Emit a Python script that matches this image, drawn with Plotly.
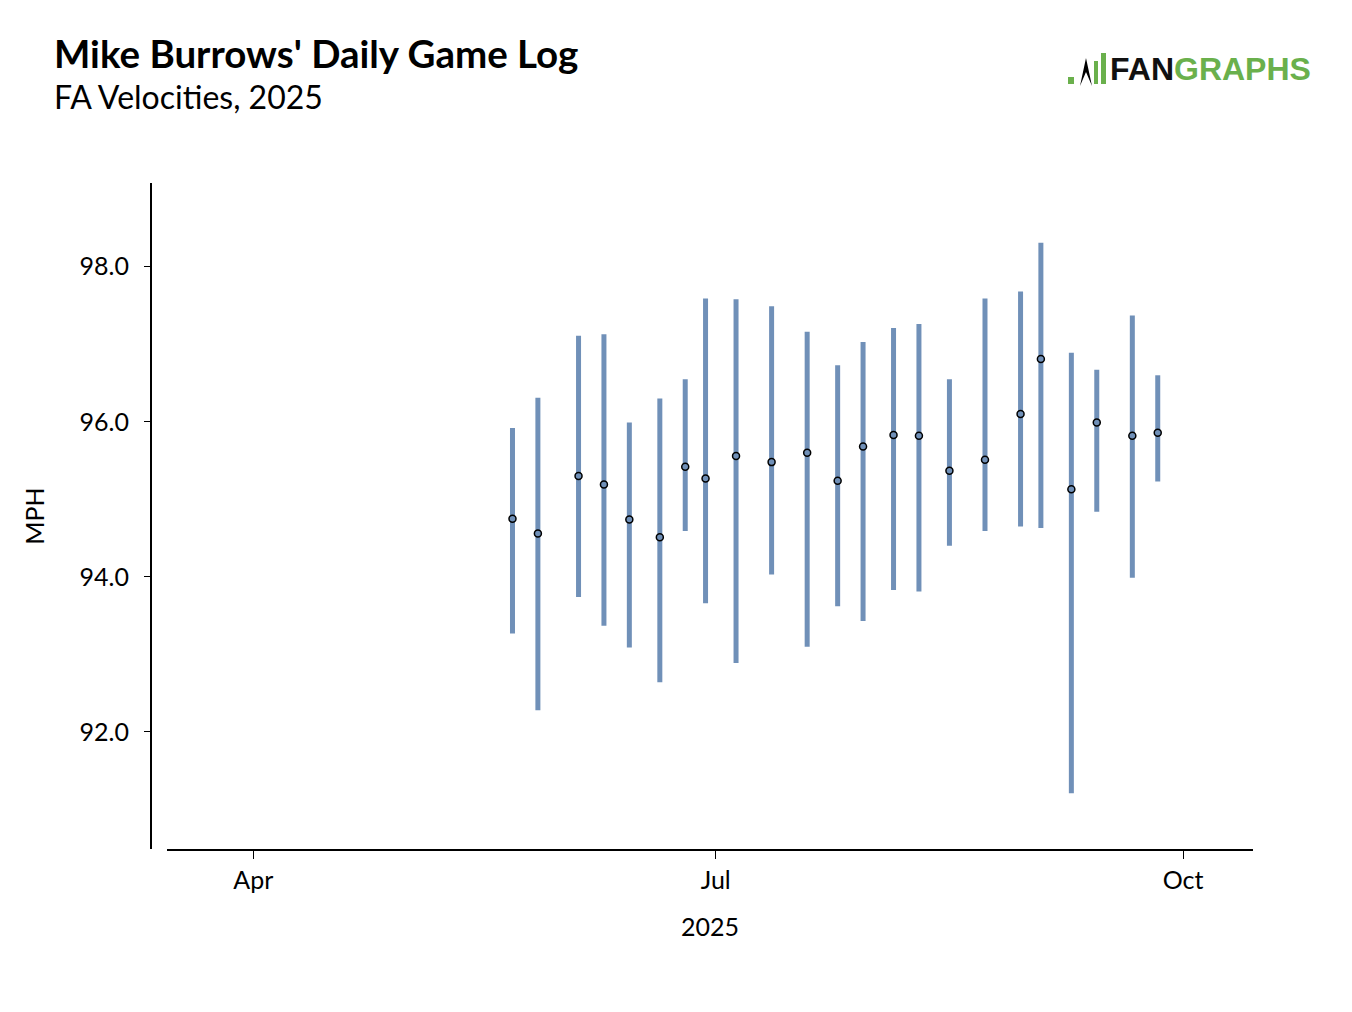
import plotly.graph_objects as go

# ---- data ----
game_dates = ["2025-05-22", "2025-05-27", "2025-06-04", "2025-06-09", "2025-06-14",
              "2025-06-20", "2025-06-25", "2025-06-29", "2025-07-05", "2025-07-12",
              "2025-07-19", "2025-07-25", "2025-07-30", "2025-08-05", "2025-08-10",
              "2025-08-16", "2025-08-23", "2025-08-30", "2025-09-03", "2025-09-09",
              "2025-09-14", "2025-09-21", "2025-09-26"]
avg_velo = [94.75, 94.56, 95.30, 95.19, 94.74, 94.51, 95.42, 95.27, 95.56, 95.48,
            95.60, 95.24, 95.68, 95.83, 95.82, 95.37, 95.51, 96.10, 96.81, 95.13,
            95.99, 95.82, 95.86]
max_velo = [95.92, 96.31, 97.11, 97.13, 95.99, 96.30, 96.55, 97.59, 97.58, 97.49,
            97.16, 96.73, 97.03, 97.21, 97.26, 96.55, 97.59, 97.68, 98.31, 96.89,
            96.67, 97.37, 96.60]
min_velo = [93.27, 92.28, 93.74, 93.37, 93.09, 92.64, 94.59, 93.66, 92.89, 94.03,
            93.10, 93.62, 93.43, 93.83, 93.81, 94.40, 94.59, 94.65, 94.63, 91.21,
            94.84, 93.99, 95.23]
x_tick_vals = ["2025-04-01", "2025-07-01", "2025-10-01"]
x_tick_text = ["Apr", "Jul", "Oct"]
y_tick_vals = [92, 94, 96, 98]

BAR = "#7090B8"
FONT = "Lato"

err_plus = [hi - a for hi, a in zip(max_velo, avg_velo)]
err_minus = [a - lo for a, lo in zip(avg_velo, min_velo)]

fig = go.Figure()
fig.add_trace(go.Scatter(
    x=game_dates, y=avg_velo, mode="markers",
    marker=dict(size=7, color=BAR, line=dict(color="black", width=1.5)),
    error_y=dict(type="data", symmetric=False, array=err_plus, arrayminus=err_minus,
                 color=BAR, thickness=5, width=0),
    showlegend=False, hoverinfo="x+y",
))

OFF = 8  # default page body margin
W, H = 1352 - 2 * OFF, 1012 - 2 * OFF
L, T = 151 - OFF, 183 - OFF
R = W - (1253 - OFF)
B = H - (849 - OFF)
pw = W - L - R
ph = H - T - B

def px(xp):
    return (xp - OFF - L) / pw

def py(yp):
    return 1 + (T - (yp - OFF)) / ph

fig.update_layout(
    width=W, height=H,
    margin=dict(l=L, r=R, t=T, b=B, pad=0),
    paper_bgcolor="white", plot_bgcolor="white",
    font=dict(family=FONT, color="black", size=25),
    xaxis=dict(
        type="date", domain=[16 / pw, 1],
        range=["2025-03-15", "2025-10-14 18:00"],
        tickvals=x_tick_vals, ticktext=x_tick_text,
        showgrid=False, zeroline=False,
        showline=True, linecolor="black", linewidth=1.5,
        ticks="outside", ticklen=8, tickwidth=1, tickcolor="black",
        tickfont=dict(family=FONT, size=25, color="black"),
        title=dict(text="2025", font=dict(family=FONT, size=25, color="black"), standoff=26),
    ),
    yaxis=dict(
        anchor="free", position=0,
        range=[90.49, 99.08],
        tickvals=y_tick_vals, tickformat=".1f",
        showgrid=False, zeroline=False,
        showline=True, linecolor="black", linewidth=2,
        ticks="outside", ticklen=6, tickwidth=1, tickcolor="black",
        ticklabelstandoff=10,
        tickfont=dict(family=FONT, size=25, color="black"),
        title=dict(text="MPH", font=dict(family=FONT, size=25, color="black"), standoff=27),
    ),
)

# Title and subtitle
fig.add_annotation(text="<b>Mike Burrows' Daily Game Log</b>", xref="paper", yref="paper",
                   x=px(52), y=py(53), xanchor="left", yanchor="middle",
                   showarrow=False, font=dict(family=FONT, size=38.5, color="black"))
fig.add_annotation(text="FA Velocities, 2025", xref="paper", yref="paper",
                   x=px(52), y=py(97), xanchor="left", yanchor="middle",
                   showarrow=False, font=dict(family=FONT, size=32, color="black"))

# FanGraphs logo (text + green bars)
GREEN = "#6AB04C"
fig.add_annotation(text="<b>FAN<span style='color:%s'>GRAPHS</span></b>" % GREEN,
                   xref="paper", yref="paper", x=px(1108), y=py(69),
                   xanchor="left", yanchor="middle", showarrow=False,
                   font=dict(family="Liberation Sans", size=32, color="#111111"))
for x0, x1, y0 in [(1068, 1074, 77), (1094, 1098, 61), (1101, 1106, 53)]:
    fig.add_shape(type="rect", xref="paper", yref="paper",
                  x0=px(x0), x1=px(x1), y0=py(84), y1=py(y0),
                  fillcolor=GREEN, line=dict(width=0))
# batter silhouette (simplified)
fig.add_shape(type="path", xref="paper", yref="paper",
              path="M %f %f L %f %f L %f %f L %f %f Z" % (
                  px(1080), py(86), px(1086), py(58),
                  px(1092), py(86), px(1086), py(72)),
              fillcolor="black", line=dict(width=0))

fig.write_html("out.html")
